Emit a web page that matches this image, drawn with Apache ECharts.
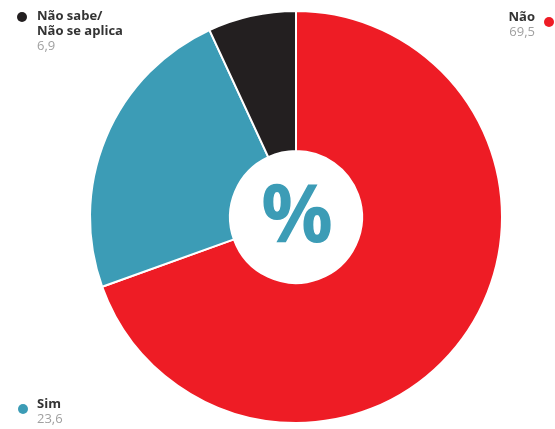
<!DOCTYPE html>
<html>
<head>
<meta charset="utf-8">
<script src="https://cdn.jsdelivr.net/npm/echarts@6/dist/echarts.min.js"></script>
<style>
  html, body { margin: 0; padding: 0; background: #fff; }
  #chart { width: 555px; height: 429px; }
</style>
</head>
<body>
<div id="chart"></div>
<script>
// Answer categories, shares (%) and slice colours
const categories = ['Não', 'Sim', 'Não sabe/\nNão se aplica'];
const values = [69.5, 23.6, 6.9];
const colors = ['#ee1c25', '#3c9cb6', '#231f20'];

const fmt = v => v.toFixed(1).replace('.', ',');

const chart = echarts.init(document.getElementById('chart'));

const labelFont = '"Open Sans", "Liberation Sans", sans-serif';

// Corner labels with a coloured dot for each answer
const labelSpots = [
  { x: 535, y: 10, align: 'right', dotX: 549, dotY: 22 },
  { x: 37, y: 397, align: 'left', dotX: 23, dotY: 409 },
  { x: 37, y: 9, align: 'left', dotX: 22, dotY: 17 }
];

const graphics = [];
categories.forEach((name, i) => {
  const s = labelSpots[i];
  const lines = name.split('\n');
  graphics.push({
    type: 'circle',
    shape: { cx: s.dotX, cy: s.dotY, r: 5 },
    style: { fill: colors[i] }
  });
  graphics.push({
    type: 'text',
    x: s.x, y: s.y,
    style: {
      text: '{n|' + lines.join('}\n{n|') + '}\n{v|' + fmt(values[i]) + '}',
      align: s.align,
      rich: {
        n: { fontFamily: labelFont, fontWeight: 'bold', fontSize: 13, lineHeight: 15, fill: '#333' },
        v: { fontFamily: labelFont, fontSize: 13, lineHeight: 14, fill: '#a0a0a0' }
      }
    }
  });
});

// Percent sign in the hole of the donut
graphics.push({
  type: 'text',
  x: 297, y: 219,
  style: {
    text: '%',
    align: 'center',
    verticalAlign: 'middle',
    fontFamily: labelFont,
    fontWeight: 'bold',
    fontSize: 80,
    fill: '#3c9cb6'
  }
});

chart.setOption({
  animation: false,
  backgroundColor: '#fff',
  series: [{
    type: 'pie',
    center: [296, 217],
    radius: [66, 206],
    startAngle: 90,
    clockwise: true,
    label: { show: false },
    labelLine: { show: false },
    itemStyle: { borderColor: '#fff', borderWidth: 2 },
    data: categories.map((c, i) => ({ name: c, value: values[i], itemStyle: { color: colors[i] } }))
  }],
  graphic: graphics
});
</script>
</body>
</html>
